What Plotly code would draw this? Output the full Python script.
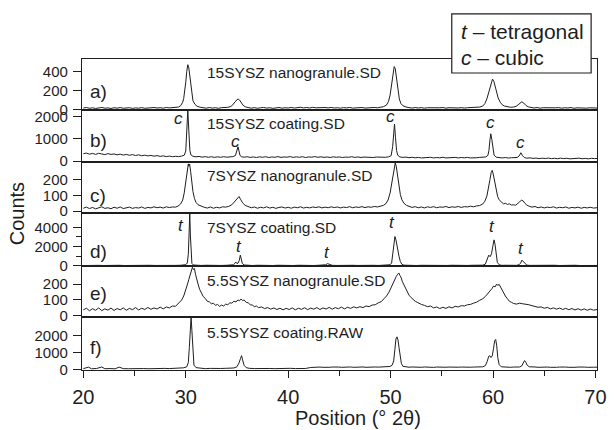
import plotly.graph_objects as go

# ---------------- data (x = 2theta in degrees, y = counts) ----------------
a_pts = [[20.0,14],[20.3,19],[20.6,11],[20.9,16],[21.2,9],[21.5,15],[21.8,20],[22.1,12],[22.4,15],[22.7,9],
         [23.0,17],[23.3,12],[23.6,19],[23.9,11],[24.2,14],[24.5,17],[24.8,10],[25.1,15],[25.4,12],[25.7,18],
         [26.0,11],[26.3,16],[26.6,13],[26.9,19],[27.2,14],[27.5,17],[27.8,12],[28.1,20],[28.4,15],[28.7,18],
         [29.0,17],[29.3,24],[29.5,38],[29.7,75],[29.8,115],[29.9,185],[30.0,285],[30.1,400],[30.2,470],[30.3,435],
         [30.4,335],[30.5,225],[30.6,145],[30.7,92],[30.9,52],[31.1,33],[31.4,22],[31.7,16],[32.0,12],[32.3,19],
         [32.6,13],[32.9,17],[33.2,11],[33.5,18],[33.8,16],[34.1,21],[34.4,30],[34.6,48],[34.8,78],[34.95,100],
         [35.1,110],[35.25,98],[35.4,72],[35.6,42],[35.85,25],[36.1,17],[36.4,12],[36.7,18],[37.0,11],[37.3,16],
         [37.6,20],[37.9,13],[38.2,17],[38.5,10],[38.8,15],[39.1,19],[39.4,12],[39.7,17],[40.0,14],[40.3,20],
         [40.6,13],[40.9,18],[41.2,22],[41.5,15],[41.8,19],[42.1,14],[42.4,21],[42.7,16],[43.0,18],[43.3,13],
         [43.6,19],[43.9,15],[44.2,20],[44.5,14],[44.8,17],[45.1,12],[45.4,18],[45.7,15],[46.0,20],[46.3,13],
         [46.6,17],[46.9,14],[47.2,19],[47.5,13],[47.8,17],[48.1,15],[48.4,20],[48.7,16],[49.0,22],[49.3,28],
         [49.6,45],[49.8,85],[49.95,150],[50.05,220],[50.15,320],[50.25,410],[50.35,450],[50.45,430],[50.55,360],[50.65,260],
         [50.75,170],[50.85,110],[51.0,62],[51.2,38],[51.5,24],[51.8,17],[52.1,13],[52.4,19],[52.7,14],[53.0,18],
         [53.3,12],[53.6,17],[53.9,15],[54.2,20],[54.5,13],[54.8,16],[55.1,19],[55.4,12],[55.7,17],[56.0,15],
         [56.3,20],[56.6,14],[56.9,18],[57.2,13],[57.5,17],[57.8,20],[58.1,16],[58.4,21],[58.7,24],[59.0,35],
         [59.2,60],[59.4,110],[59.55,170],[59.7,240],[59.82,290],[59.95,318],[60.08,295],[60.2,245],[60.35,175],[60.5,120],
         [60.7,75],[60.9,48],[61.1,35],[61.4,27],[61.7,22],[62.0,24],[62.25,32],[62.45,48],[62.65,68],[62.82,80],
         [63.0,66],[63.2,42],[63.45,26],[63.7,18],[64.0,14],[64.3,19],[64.6,12],[64.9,17],[65.2,15],[65.5,20],
         [65.8,13],[66.1,16],[66.4,18],[66.7,12],[67.0,17],[67.3,14],[67.6,19],[67.9,11],[68.2,16],[68.5,13],
         [68.8,18],[69.1,12],[69.4,16],[69.7,14],[70.0,17],[70.3,13]]

b_pts = [[20.0,330],[20.3,360],[20.6,310],[20.9,345],[21.2,300],[21.5,350],[21.8,320],[22.1,290],[22.4,335],[22.7,300],
         [23.0,320],[23.3,280],[23.6,310],[23.9,270],[24.2,300],[24.5,260],[24.8,290],[25.1,250],[25.4,280],[25.7,240],
         [26.0,265],[26.3,230],[26.6,255],[26.9,220],[27.2,245],[27.5,210],[27.8,235],[28.1,200],[28.4,225],[28.7,195],
         [29.0,215],[29.3,200],[29.6,225],[29.85,260],[30.0,450],[30.1,1250],[30.2,2300],[30.3,1350],[30.4,480],[30.5,280],
         [30.7,215],[31.0,190],[31.3,210],[31.6,175],[31.9,200],[32.2,170],[32.5,195],[32.8,165],[33.1,190],[33.4,170],
         [33.7,195],[34.0,175],[34.3,185],[34.6,200],[34.85,250],[35.0,440],[35.1,640],[35.2,450],[35.3,250],[35.45,190],
         [35.7,175],[36.0,195],[36.3,165],[36.6,185],[36.9,160],[37.2,190],[37.5,170],[37.8,195],[38.1,160],[38.4,185],
         [38.7,170],[39.0,200],[39.3,165],[39.6,185],[39.9,175],[40.2,200],[40.5,165],[40.8,190],[41.1,170],[41.4,195],
         [41.7,160],[42.0,185],[42.3,175],[42.6,200],[42.9,170],[43.2,190],[43.5,165],[43.8,185],[44.1,160],[44.4,190],
         [44.7,170],[45.0,185],[45.3,160],[45.6,180],[45.9,170],[46.2,195],[46.5,165],[46.8,185],[47.1,160],[47.4,180],
         [47.7,170],[48.0,190],[48.3,160],[48.6,180],[48.9,170],[49.2,185],[49.5,170],[49.8,190],[50.05,240],[50.2,650],
         [50.3,1400],[50.38,1670],[50.48,1050],[50.58,480],[50.7,260],[50.9,185],[51.2,165],[51.5,180],[51.8,150],[52.1,170],
         [52.4,145],[52.7,165],[53.0,140],[53.3,160],[53.6,150],[53.9,170],[54.2,140],[54.5,160],[54.8,145],[55.1,170],
         [55.4,140],[55.7,155],[56.0,145],[56.3,165],[56.6,140],[56.9,160],[57.2,145],[57.5,165],[57.8,140],[58.1,160],
         [58.4,150],[58.7,165],[59.0,160],[59.3,185],[59.5,260],[59.6,480],[59.7,950],[59.78,1230],[59.88,980],[59.98,520],
         [60.1,270],[60.3,175],[60.6,150],[60.9,140],[61.2,160],[61.5,135],[61.8,150],[62.1,140],[62.35,160],[62.55,230],
         [62.72,375],[62.88,240],[63.05,160],[63.3,130],[63.6,145],[63.9,120],[64.2,135],[64.5,110],[64.8,130],[65.1,115],
         [65.4,135],[65.7,110],[66.0,125],[66.3,105],[66.6,130],[66.9,110],[67.2,125],[67.5,100],[67.8,120],[68.1,110],
         [68.4,130],[68.7,105],[69.0,120],[69.3,100],[69.6,125],[69.9,110],[70.3,120]]

c_pts = [[20.0,18],[20.3,25],[20.6,16],[20.9,23],[21.2,14],[21.5,22],[21.8,27],[22.1,17],[22.4,21],[22.7,15],
         [23.0,24],[23.3,18],[23.6,26],[23.9,16],[24.2,21],[24.5,25],[24.8,17],[25.1,22],[25.4,19],[25.7,26],
         [26.0,17],[26.3,23],[26.6,20],[26.9,27],[27.2,21],[27.5,25],[27.8,19],[28.1,27],[28.4,22],[28.7,26],
         [29.0,25],[29.25,32],[29.5,45],[29.7,70],[29.85,115],[29.95,165],[30.05,215],[30.15,265],[30.25,300],[30.3,285],
         [30.38,298],[30.48,250],[30.58,185],[30.7,125],[30.85,80],[31.0,55],[31.2,40],[31.5,30],[31.8,24],[32.1,19],
         [32.4,26],[32.7,18],[33.0,24],[33.3,20],[33.6,27],[33.9,25],[34.2,30],[34.5,40],[34.75,58],[34.95,78],
         [35.1,90],[35.2,92],[35.35,75],[35.55,52],[35.8,36],[36.1,27],[36.4,21],[36.7,26],[37.0,18],[37.3,24],
         [37.6,20],[37.9,27],[38.2,19],[38.5,24],[38.8,17],[39.1,23],[39.4,26],[39.7,19],[40.0,24],[40.3,18],
         [40.6,25],[40.9,21],[41.2,27],[41.5,19],[41.8,24],[42.1,20],[42.4,26],[42.7,22],[43.0,27],[43.3,20],
         [43.6,25],[43.9,21],[44.2,27],[44.5,22],[44.8,26],[45.1,20],[45.4,25],[45.7,22],[46.0,28],[46.3,21],
         [46.6,26],[46.9,23],[47.2,28],[47.5,22],[47.8,27],[48.1,24],[48.4,29],[48.7,26],[49.0,31],[49.3,36],
         [49.55,48],[49.75,70],[49.95,115],[50.1,175],[50.22,235],[50.35,280],[50.45,305],[50.55,285],[50.68,225],[50.82,155],
         [50.95,105],[51.1,72],[51.3,50],[51.55,36],[51.85,28],[52.1,23],[52.4,28],[52.7,21],[53.0,26],[53.3,20],
         [53.6,27],[53.9,23],[54.2,28],[54.5,21],[54.8,26],[55.1,24],[55.4,29],[55.7,22],[56.0,27],[56.3,24],
         [56.6,29],[56.9,23],[57.2,28],[57.5,26],[57.8,31],[58.1,27],[58.4,33],[58.7,35],[59.0,45],[59.2,62],
         [59.4,95],[59.55,140],[59.7,200],[59.82,245],[59.92,258],[60.02,235],[60.15,185],[60.3,130],[60.45,92],[60.6,72],
         [60.75,58],[60.9,52],[61.05,45],[61.2,50],[61.4,42],[61.6,46],[61.8,38],[62.0,40],[62.2,37],[62.4,45],
         [62.6,58],[62.78,70],[62.95,64],[63.1,50],[63.3,38],[63.55,30],[63.8,25],[64.1,29],[64.4,21],[64.7,26],
         [65.0,20],[65.3,25],[65.6,22],[65.9,27],[66.2,19],[66.5,24],[66.8,21],[67.1,26],[67.4,18],[67.7,23],
         [68.0,20],[68.3,25],[68.6,18],[68.9,23],[69.2,20],[69.5,24],[69.8,19],[70.3,22]]

d_pts = [[20.0,30],[20.5,55],[21.0,25],[21.5,50],[22.0,35],[22.5,60],[23.0,30],[23.5,55],[24.0,35],[24.5,50],
         [25.0,30],[25.5,60],[26.0,35],[26.5,55],[27.0,40],[27.5,60],[28.0,35],[28.5,55],[29.0,45],[29.5,60],
         [29.8,70],[30.0,120],[30.15,300],[30.25,1200],[30.33,3500],[30.39,5500],[30.45,3200],[30.52,900],[30.6,250],[30.75,90],
         [31.0,55],[31.5,40],[32.0,60],[32.5,35],[33.0,55],[33.5,40],[34.0,60],[34.4,55],[34.65,110],[34.8,260],
         [34.88,400],[34.98,260],[35.1,270],[35.22,550],[35.33,1110],[35.42,700],[35.52,250],[35.7,90],[36.0,50],[36.5,35],
         [37.0,60],[37.5,40],[38.0,55],[38.5,35],[39.0,60],[39.5,40],[40.0,55],[40.5,35],[41.0,60],[41.5,40],
         [42.0,55],[42.5,35],[43.0,60],[43.4,50],[43.65,110],[43.85,230],[44.05,120],[44.3,50],[44.8,40],[45.3,60],
         [45.8,35],[46.3,55],[46.8,40],[47.3,60],[47.8,35],[48.3,55],[48.8,40],[49.3,60],[49.7,55],[49.95,110],
         [50.1,300],[50.22,1200],[50.32,2500],[50.42,3050],[50.52,2700],[50.62,2000],[50.72,1500],[50.82,1000],[50.95,450],[51.1,160],
         [51.3,70],[51.6,45],[52.0,60],[52.5,35],[53.0,55],[53.5,40],[54.0,60],[54.5,35],[55.0,55],[55.5,40],
         [56.0,60],[56.5,35],[57.0,55],[57.5,40],[58.0,60],[58.5,45],[59.0,70],[59.25,180],[59.42,650],[59.58,1110],
         [59.72,950],[59.85,1250],[59.98,2050],[60.1,2700],[60.2,2200],[60.3,1000],[60.42,350],[60.6,110],[60.85,50],[61.2,60],
         [61.6,40],[62.0,55],[62.3,50],[62.55,120],[62.7,300],[62.82,590],[62.95,450],[63.1,180],[63.3,70],[63.6,45],
         [64.0,60],[64.5,35],[65.0,55],[65.5,40],[66.0,60],[66.5,35],[67.0,55],[67.5,40],[68.0,60],[68.5,35],
         [69.0,55],[69.5,40],[70.0,55],[70.3,40]]

e_pts = [[20.0,38],[20.3,48],[20.6,32],[20.9,45],[21.2,35],[21.5,50],[21.8,33],[22.1,44],[22.4,36],[22.7,49],
         [23.0,34],[23.3,46],[23.6,38],[23.9,50],[24.2,35],[24.5,47],[24.8,39],[25.1,52],[25.4,37],[25.7,48],
         [26.0,40],[26.3,53],[26.6,41],[26.9,50],[27.2,43],[27.5,55],[27.8,44],[28.1,56],[28.4,50],[28.7,62],
         [29.0,60],[29.2,72],[29.4,82],[29.6,100],[29.8,125],[30.0,160],[30.15,195],[30.3,230],[30.45,270],[30.55,290],
         [30.65,305],[30.75,292],[30.85,298],[30.95,262],[31.05,230],[31.2,200],[31.35,168],[31.5,150],[31.7,122],[31.9,110],
         [32.1,92],[32.3,88],[32.5,76],[32.7,80],[32.9,66],[33.1,72],[33.3,60],[33.5,68],[33.7,62],[33.9,74],
         [34.1,70],[34.3,82],[34.5,80],[34.7,92],[34.9,88],[35.1,100],[35.25,95],[35.4,106],[35.55,96],[35.7,100],
         [35.9,85],[36.1,82],[36.3,70],[36.5,68],[36.7,58],[36.9,62],[37.1,52],[37.4,56],[37.7,46],[38.0,52],
         [38.3,42],[38.6,50],[38.9,40],[39.2,48],[39.5,38],[39.8,47],[40.1,40],[40.4,50],[40.7,38],[41.0,48],
         [41.3,41],[41.6,51],[41.9,39],[42.2,49],[42.5,42],[42.8,52],[43.1,40],[43.4,50],[43.7,43],[44.0,53],
         [44.3,42],[44.6,52],[44.9,45],[45.2,55],[45.5,44],[45.8,54],[46.1,47],[46.4,57],[46.7,50],[47.0,58],
         [47.3,52],[47.6,62],[47.9,58],[48.2,68],[48.5,70],[48.8,82],[49.1,90],[49.35,108],[49.6,125],[49.85,150],
         [50.05,180],[50.25,205],[50.4,235],[50.55,248],[50.7,262],[50.8,270],[50.9,255],[51.0,245],[51.15,215],[51.3,195],
         [51.45,170],[51.6,150],[51.8,130],[52.0,115],[52.2,102],[52.4,92],[52.6,85],[52.8,78],[53.0,72],[53.3,66],
         [53.6,58],[53.9,62],[54.2,50],[54.5,56],[54.8,46],[55.1,54],[55.4,47],[55.7,57],[56.0,50],[56.3,60],
         [56.6,56],[56.9,64],[57.2,62],[57.5,70],[57.8,72],[58.1,80],[58.4,86],[58.7,98],[59.0,108],[59.25,122],
         [59.5,140],[59.7,160],[59.9,172],[60.05,188],[60.2,182],[60.35,200],[60.45,192],[60.6,198],[60.75,178],[60.9,165],
         [61.05,145],[61.2,125],[61.4,108],[61.6,92],[61.8,85],[62.0,78],[62.3,74],[62.6,80],[62.9,76],[63.2,74],
         [63.5,70],[63.8,64],[64.1,60],[64.4,54],[64.7,56],[65.0,48],[65.3,53],[65.6,44],[65.9,50],[66.2,42],
         [66.5,49],[66.8,40],[67.1,47],[67.4,39],[67.7,46],[68.0,37],[68.3,45],[68.6,36],[68.9,44],[69.2,35],
         [69.5,43],[69.8,36],[70.3,41]]

f_pts = [[20.0,40],[20.5,130],[20.8,30],[21.3,50],[21.8,140],[22.1,35],[22.6,45],[23.1,30],[23.5,130],[23.9,40],
         [24.4,35],[24.9,50],[25.4,30],[25.9,45],[26.4,35],[26.9,50],[27.4,40],[27.9,55],[28.4,45],[28.9,60],
         [29.4,70],[29.8,90],[30.1,150],[30.25,400],[30.35,1300],[30.45,2700],[30.52,3100],[30.6,2300],[30.7,800],[30.8,250],
         [31.0,100],[31.4,60],[31.9,40],[32.4,55],[32.9,35],[33.4,50],[33.9,60],[34.3,55],[34.7,80],[35.0,150],
         [35.2,380],[35.35,650],[35.45,810],[35.55,560],[35.7,230],[35.9,100],[36.2,60],[36.7,45],[37.2,55],[37.7,40],
         [38.2,50],[38.7,40],[39.2,55],[39.7,45],[40.2,60],[40.7,45],[41.2,60],[41.7,50],[42.2,110],[42.5,130],
         [42.8,115],[43.1,135],[43.4,120],[43.7,140],[44.0,120],[44.3,135],[44.6,115],[44.9,135],[45.2,120],[45.5,140],
         [45.8,125],[46.1,140],[46.4,120],[46.7,135],[47.0,125],[47.3,140],[47.6,120],[47.9,135],[48.2,125],[48.5,140],
         [48.8,130],[49.1,145],[49.4,140],[49.7,150],[49.95,170],[50.15,250],[50.3,500],[50.42,1200],[50.52,1800],[50.62,1930],
         [50.72,1750],[50.82,1300],[50.92,750],[51.05,350],[51.2,180],[51.45,140],[51.8,125],[52.1,140],[52.4,120],[52.7,135],
         [53.0,120],[53.3,140],[53.6,125],[53.9,135],[54.2,115],[54.5,135],[54.8,120],[55.1,140],[55.4,125],[55.7,135],
         [56.0,120],[56.3,140],[56.6,125],[56.9,135],[57.2,120],[57.5,140],[57.8,125],[58.1,135],[58.4,130],[58.7,140],
         [59.0,150],[59.25,220],[59.42,450],[59.58,780],[59.68,810],[59.8,700],[59.92,800],[60.05,1250],[60.16,1700],[60.26,1775],
         [60.36,1400],[60.46,700],[60.6,280],[60.8,150],[61.1,130],[61.4,140],[61.7,120],[62.0,135],[62.3,125],[62.6,140],
         [62.8,200],[62.95,350],[63.08,520],[63.2,420],[63.35,230],[63.55,150],[63.8,125],[64.1,140],[64.4,120],[64.7,135],
         [65.0,115],[65.3,135],[65.6,120],[65.9,140],[66.2,120],[66.5,135],[66.8,115],[67.1,135],[67.4,120],[67.7,140],
         [68.0,120],[68.3,135],[68.6,115],[68.9,135],[69.2,120],[69.5,140],[69.8,125],[70.3,130]]

sample_names = ["15SYSZ nanogranule.SD", "15SYSZ coating.SD", "7SYSZ nanogranule.SD",
                "7SYSZ coating.SD", "5.5SYSZ nanogranule.SD", "5.5SYSZ coating.RAW"]
panel_tags = ["a)", "b)", "c)", "d)", "e)", "f)"]
y_ranges = [[-7, 530], [-40, 2300], [-12, 312], [-30, 5500], [-8, 313], [-40, 3100]]
y_ticks = [[0, 200, 400], [0, 1000, 2000], [0, 100, 200], [0, 2000, 4000], [0, 100, 200], [0, 1000, 2000]]
x_ticks = [20, 30, 40, 50, 60, 70]

# phase markers (panel b: cubic, panel d: tetragonal)
cubic_x = [29.3, 34.85, 50.0, 59.77, 62.7]
cubic_y = [1930, 860, 1990, 1744, 857]
tetra_x = [29.52, 35.24, 43.8, 50.1, 59.9, 62.75]
tetra_y = [4240, 2050, 1375, 4500, 4080, 1810]

# ---------------- figure ----------------
FONT = "Liberation Sans, Arial, Helvetica, sans-serif"
INK = "#1e1e1e"
all_pts = [a_pts, b_pts, c_pts, d_pts, e_pts, f_pts]
doms = [[0.836, 1.0], [0.669, 0.836], [0.505, 0.669], [0.334, 0.505], [0.170, 0.334], [0.0, 0.170]]
tag_fy = [0.36, 0.41, 0.34, 0.27, 0.46, 0.42]
name_fy = [0.745, 0.735, 0.725, 0.726, 0.725, 0.71]

fig = go.Figure()
layout = dict(
    width=616, height=430,
    margin=dict(l=82, r=9, t=59, b=60),
    paper_bgcolor="white", plot_bgcolor="white",
    showlegend=False,
    font=dict(family=FONT, color=INK),
)
annotations = []
for i, pts in enumerate(all_pts):
    n = i + 1
    sx = "" if n == 1 else str(n)
    xs = [p[0] for p in pts]
    ys = [p[1] for p in pts]
    fig.add_trace(go.Scatter(x=xs, y=ys, mode="lines",
                             line=dict(color=INK, width=1),
                             xaxis="x" + sx, yaxis="y" + sx, hoverinfo="skip"))
    xa = dict(domain=[0, 1], anchor="y" + sx, range=[19.87, 70.15],
              showline=True, mirror=True, linecolor=INK, linewidth=1.2,
              showgrid=False, zeroline=False)
    if n > 1:
        xa["matches"] = "x"
    if n == 6:
        xa.update(ticks="outside", ticklen=7, tickwidth=1.2, tickcolor=INK,
                  tickvals=x_ticks, tickfont=dict(size=20, family=FONT, color=INK),
                  ticklabelstandoff=2, ticklabeloverflow="allow",
                  minor=dict(dtick=5, tick0=0, ticks="outside", ticklen=5,
                             tickwidth=1.2, tickcolor=INK))
    else:
        xa.update(ticks="", showticklabels=False)
    ya = dict(domain=doms[i], anchor="x" + sx, range=y_ranges[i],
              tickvals=y_ticks[i], ticks="outside", ticklen=8, tickwidth=1.2,
              tickcolor=INK, showline=True, mirror=True, linecolor=INK, linewidth=1.2,
              showgrid=False, zeroline=False,
              tickfont=dict(size=15, family=FONT, color=INK), ticklabelstandoff=2)
    if n == 4:
        ya["minor"] = dict(tickvals=[1000, 3000], ticks="outside", ticklen=5,
                           tickwidth=1.2, tickcolor=INK)
    layout["xaxis" + sx] = xa
    layout["yaxis" + sx] = ya

    annotations.append(dict(text=panel_tags[i], x=20.45, y=tag_fy[i],
                            xref="x" + sx, yref="y" + sx + " domain",
                            xanchor="left", yanchor="middle", showarrow=False,
                            font=dict(size=19, family=FONT, color=INK)))
    annotations.append(dict(text=sample_names[i], x=31.85, y=name_fy[i],
                            xref="x" + sx, yref="y" + sx + " domain",
                            xanchor="left", yanchor="middle", showarrow=False,
                            font=dict(size=15.5, family=FONT, color=INK)))

for xv, yv in zip(cubic_x, cubic_y):
    annotations.append(dict(text="<i>c</i>", x=xv, y=yv, xref="x2", yref="y2",
                            showarrow=False, xanchor="center", yanchor="middle",
                            font=dict(size=17, family=FONT, color=INK)))
for xv, yv in zip(tetra_x, tetra_y):
    annotations.append(dict(text="<i>t</i>", x=xv, y=yv, xref="x4", yref="y4",
                            showarrow=False, xanchor="center", yanchor="middle",
                            font=dict(size=17, family=FONT, color=INK)))

# axis titles
annotations.append(dict(text="Counts", x=-0.1257, y=0.5016, xref="paper", yref="paper",
                        textangle=-90, showarrow=False, xanchor="center", yanchor="middle",
                        font=dict(size=20, family=FONT, color=INK)))
annotations.append(dict(text="Position (° 2θ)", x=0.536, y=-0.154, xref="paper", yref="paper",
                        showarrow=False, xanchor="center", yanchor="middle",
                        font=dict(size=20, family=FONT, color=INK)))

# phase key box
annotations.append(dict(text="<i>t</i> – tetragonal", x=0.733, y=1.087, xref="paper", yref="paper",
                        showarrow=False, xanchor="left", yanchor="middle",
                        font=dict(size=21, family=FONT, color=INK)))
annotations.append(dict(text="<i>c</i> – cubic", x=0.733, y=1.006, xref="paper", yref="paper",
                        showarrow=False, xanchor="left", yanchor="middle",
                        font=dict(size=21, family=FONT, color=INK)))
layout["shapes"] = [dict(type="rect", xref="paper", yref="paper",
                         x0=0.718, x1=0.9886, y0=0.955, y1=1.145,
                         line=dict(color=INK, width=1.2), fillcolor="white", layer="above")]
layout["annotations"] = annotations
fig.update_layout(**layout)
fig.write_html("out.html")
